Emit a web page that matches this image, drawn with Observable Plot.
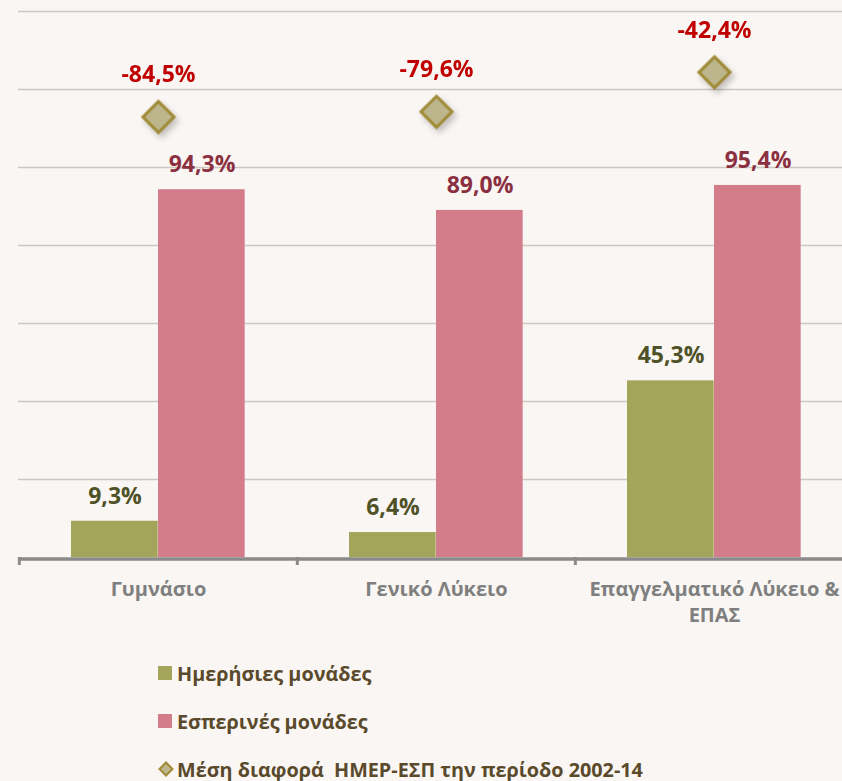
<!DOCTYPE html>
<html>
<head>
<meta charset="utf-8">
<script src="https://cdn.jsdelivr.net/npm/d3@7"></script>
<script src="https://cdn.jsdelivr.net/npm/@observablehq/plot@0.6"></script>
<style>
  html, body { margin: 0; padding: 0; background: #f9f6f3; overflow: hidden; }
  body { width: 842px; height: 781px; font-family: 'Open Sans', sans-serif; }
  #chart { position: relative; width: 853px; height: 640px; }
  #chart > svg { position: absolute; left: 0; top: 0; }
  #legend { padding-left: 158px; margin-top: 9px; }
  .item { display: flex; align-items: center; height: 48px; font-weight: 700; font-size: 19.8px; color: #5a4a2b; white-space: pre; }
  .sw { width: 14px; height: 14px; margin-right: 5px; flex: none; }
</style>
</head>
<body>
<div id="chart"></div>
<div id="legend"></div>
<script>
const categories = ["Γυμνάσιο", "Γενικό Λύκειο", "Επαγγελματικό Λύκειο & ΕΠΑΣ"];
const dayValues = [9.3, 6.4, 45.3];
const eveningValues = [94.3, 89.0, 95.4];
const diffValues = [-84.5, -79.6, -42.4];
const seriesNames = ["Ημερήσιες μονάδες", "Εσπερινές μονάδες", "Μέση διαφορά  ΗΜΕΡ-ΕΣΠ την περίοδο 2002-14"];
const yTicks = [0, 20, 40, 60, 80, 100, 120, 140];
const yDomain = [0, 140];
const y2Domain = [-500, 15];

const dayColor = "#a3a65a", eveColor = "#d37c8a";
const dayText = "#4f5127", eveText = "#8b3041", diffText = "#c00000";
const diaFill = "#bdb68c", diaStroke = "#a08a35";

const rows = categories.map((c, i) => ({category: c, day: dayValues[i], evening: eveningValues[i], diff: diffValues[i]}));
const fmt = v => v.toFixed(1).replace(".", ",") + "%";

const W = 853, H = 640, mL = 18, mR = 0, mT = 11, mB = 83;
const bw = (W - mL - mR) / categories.length;
const outer = 52, barW = 87;
const font = "'Open Sans', sans-serif";

const base = Plot.plot({
  width: W, height: H, marginLeft: mL, marginRight: mR, marginTop: mT, marginBottom: mB,
  style: {background: "transparent", fontFamily: font, overflow: "visible"},
  x: {type: "band", domain: categories, padding: 0, axis: null},
  y: {domain: yDomain, axis: null},
  marks: [
    Plot.gridY(yTicks.filter(t => t > 0), {stroke: "#cdc8c3", strokeOpacity: 1, strokeWidth: 1.5}),
    Plot.barY(rows, {x: "category", y: "day", fill: dayColor, insetLeft: outer, insetRight: bw - outer - barW}),
    Plot.barY(rows, {x: "category", y: "evening", fill: eveColor, insetLeft: outer + barW, insetRight: bw - outer - 2 * barW}),
    Plot.ruleY([0], {stroke: "#8a8a8a", strokeWidth: 3.5, dy: 1.5}),
    Plot.axisX({tickSize: 8, tickFormat: () => "", label: null, dx: -bw / 2, stroke: "#8a8a8a", strokeWidth: 3, tickPadding: 0}),
    Plot.axisX({tickSize: 0, tickPadding: 20, label: null, tickFormat: d => d.replace("& ", "&\n"), fill: "#7f7f7f", fontSize: 20, fontWeight: 700, lineHeight: 1.3}),
    Plot.text(rows, {x: "category", y: "day", text: d => fmt(d.day), dx: -barW / 2, dy: -25, fill: dayText, fontSize: 23, fontWeight: 700}),
    Plot.text(rows, {x: "category", y: "evening", text: d => fmt(d.evening), dx: barW / 2, dy: -25, fill: eveText, fontSize: 23, fontWeight: 700})
  ]
});

const overlay = Plot.plot({
  width: W, height: H, marginLeft: mL, marginRight: mR, marginTop: mT, marginBottom: mB,
  style: {background: "transparent", fontFamily: font, overflow: "visible"},
  x: {type: "band", domain: categories, padding: 0, axis: null},
  y: {domain: y2Domain, axis: null},
  marks: [
    Plot.dot(rows, {x: "category", y: "diff", symbol: "diamond2", r: 14, fill: diaFill, stroke: diaStroke, strokeWidth: 3}),
    Plot.text(rows, {x: "category", y: "diff", text: d => fmt(d.diff), dy: -42, fill: diffText, fontSize: 23, fontWeight: 700})
  ]
});
d3.select(overlay).selectAll("g[aria-label=dot]").style("filter", "drop-shadow(3px 4px 3px rgba(0,0,0,0.22))");

const chart = document.getElementById("chart");
chart.appendChild(base);
chart.appendChild(overlay);

const legend = d3.select("#legend");
const swatches = [dayColor, eveColor, null];
seriesNames.forEach((name, i) => {
  const item = legend.append("div").attr("class", "item");
  if (swatches[i]) {
    item.append("div").attr("class", "sw").style("background", swatches[i]);
  } else {
    const s = item.append("svg").attr("width", 16).attr("height", 16).style("margin-right", "3px").style("flex", "none");
    s.append("path").attr("d", "M8,1.5L14.5,8L8,14.5L1.5,8Z").attr("fill", diaFill).attr("stroke", diaStroke).attr("stroke-width", 2);
  }
  item.append("span").text(name);
});
</script>
</body>
</html>
